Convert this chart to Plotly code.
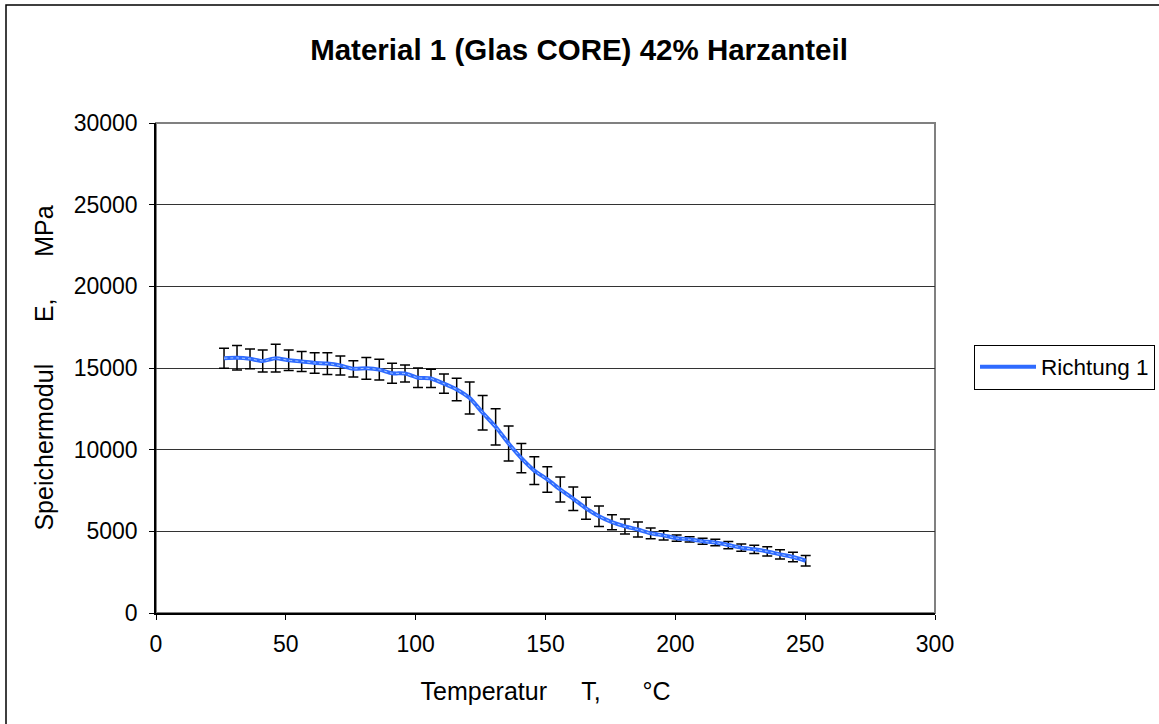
import plotly.graph_objects as go

# Temperature (°C) of each measured point
temperature = [26.2, 31.2, 36.2, 41.1, 46.1, 51.1, 56.1, 61.1, 66.0, 71.0,
               76.0, 81.0, 86.0, 90.9, 95.9, 100.9, 105.9, 110.9, 115.8, 120.8,
               125.8, 130.8, 135.8, 140.7, 145.7, 150.7, 155.7, 160.7, 165.6, 170.6,
               175.6, 180.6, 185.6, 190.5, 195.5, 200.5, 205.5, 210.5, 215.4, 220.4,
               225.4, 230.4, 235.4, 240.3, 245.3, 250.2]

# Storage modulus E (MPa)
modulus = [15600, 15620, 15560, 15430, 15600, 15470, 15400, 15310, 15270, 15150,
           14950, 14980, 14900, 14680, 14660, 14400, 14360, 14040, 13690, 13160,
           12260, 11400, 10380, 9480, 8720, 8180, 7560, 6990, 6410, 5920,
           5560, 5300, 5110, 4880, 4750, 4580, 4510, 4390, 4310, 4160,
           4000, 3900, 3770, 3590, 3430, 3200]

# Error (± MPa)
error = [610, 750, 600, 670, 850, 630, 610, 630, 670, 580,
         500, 670, 630, 610, 520, 600, 560, 590, 690, 980,
         1060, 1110, 1070, 890, 850, 780, 770, 720, 670, 630,
         460, 460, 460, 330, 280, 190, 160, 180, 200, 220,
         220, 250, 280, 290, 290, 320]

x_ticks = [0, 50, 100, 150, 200, 250, 300]
y_ticks = [0, 5000, 10000, 15000, 20000, 25000, 30000]

title_text = "Material 1 (Glas CORE) 42% Harzanteil"
x_title = "Temperatur\u00a0\u00a0\u00a0\u00a0 T,\u00a0\u00a0\u00a0\u00a0\u00a0 °C"
y_title = "Speichermodul\u00a0\u00a0\u00a0\u00a0\u00a0 E,\u00a0\u00a0\u00a0\u00a0\u00a0 MPa"
series_name = "Richtung 1"

W, H = 1159, 724
L, R, T, B = 156, 935, 123, 613

fig = go.Figure()
fig.add_trace(go.Scatter(
    x=temperature, y=modulus, name=series_name, mode="lines",
    line=dict(color="#2f6bff", width=4, shape="spline", smoothing=0.6),
    error_y=dict(type="data", array=error, visible=True, color="black",
                 thickness=1.5, width=5),
))
fig.add_trace(go.Scatter(
    x=temperature, y=modulus, name=series_name, mode="lines", showlegend=False,
    hoverinfo="skip",
    line=dict(color="#a9cbff", width=1, shape="spline", smoothing=0.6, dash="dot"),
))

def px_x(p):
    return (p - L) / (R - L)

def px_y(p):
    return (B - p) / (B - T)

fig.update_layout(
    width=W, height=H,
    margin=dict(l=L, r=W - R, t=T, b=H - B, autoexpand=False),
    paper_bgcolor="white", plot_bgcolor="white",
    font=dict(family="Arial, Liberation Sans, sans-serif", size=23, color="black"),
    title=dict(text="<b>" + title_text + "</b>", x=px_x(579), xref="paper",
               xanchor="center", y=1 - 50 / H, yanchor="middle",
               font=dict(size=29.5)),
    showlegend=True,
    legend=dict(x=px_x(974), y=px_y(367), xanchor="left", yanchor="middle",
                bordercolor="black", borderwidth=1, bgcolor="white",
                font=dict(size=22.5), itemwidth=56, tracegroupgap=0),
    shapes=[
        dict(type="rect", xref="paper", yref="paper", x0=0, x1=1, y0=0, y1=1,
             line=dict(color="#808080", width=2), layer="below"),
        dict(type="rect", xref="paper", yref="paper",
             x0=px_x(6), x1=px_x(1175), y0=px_y(740), y1=px_y(5),
             line=dict(color="black", width=1.5), layer="below"),
    ],
)
fig.update_xaxes(range=[0, 300], tickvals=x_ticks, tickformat="d",
                 showgrid=False, showline=True, linecolor="black", linewidth=1.5,
                 ticks="outside", ticklen=5, tickcolor="black", zeroline=False,
                 tickfont=dict(size=23), ticklabelstandoff=5,
                 title=dict(text=x_title, standoff=26, font=dict(size=25)))
fig.update_yaxes(range=[0, 30000], tickvals=y_ticks, tickformat="d",
                 showgrid=True, gridcolor="#333333", gridwidth=1,
                 showline=True, linecolor="black", linewidth=1.5,
                 ticks="outside", ticklen=5, tickcolor="black", zeroline=False,
                 tickfont=dict(size=23), ticklabelstandoff=7,
                 title=dict(text=y_title, standoff=13, font=dict(size=25)))

fig.write_html("out.html")
